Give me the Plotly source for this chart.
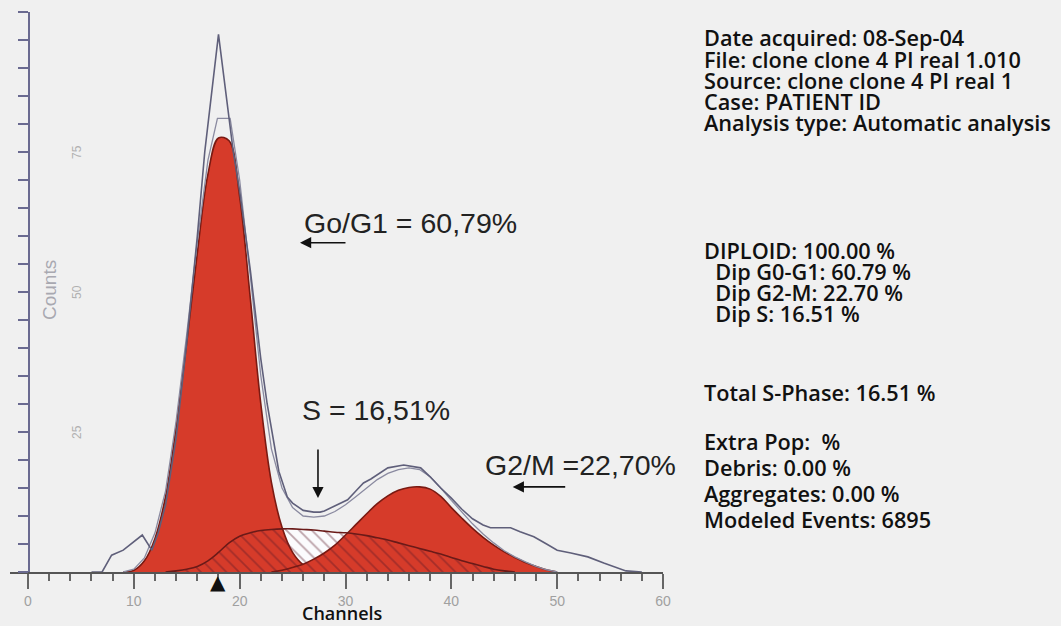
import plotly.graph_objects as go

# ---------------- data ----------------
# G0/G1 fitted component (channel, counts)
g1_channels = [9, 10, 11, 12, 13, 14, 15, 16, 17, 18, 19, 20, 21, 22, 23, 24, 25, 26, 27, 28]
g1_counts = [0, 0.3, 2, 6, 13.5, 26, 41, 57, 71, 77.5, 77, 67, 49, 30, 16, 8, 3.5, 1.3, 0.4, 0]

# G2/M fitted component
g2_channels = list(range(23, 51))
g2_counts = [0, 0.3, 0.8, 1.4, 2.3, 3.4, 4.8, 6.6, 8.5, 10.4, 12.2, 13.6, 14.6, 15.1,
             15.2, 14.8, 13.5, 11.5, 9.6, 7.8, 6.2, 4.8, 3.6, 2.6, 1.7, 1.0, 0.4, 0]

# S-phase component
s_channels = list(range(13, 47))
s_counts = [0, 0.2, 0.5, 1.0, 2, 3.5, 5.2, 6.4, 7.0, 7.4, 7.6, 7.7, 7.7, 7.6, 7.5, 7.3,
            7.1, 7.0, 6.8, 6.5, 6.1, 5.7, 5.2, 4.7, 4.2, 3.7, 3.2, 2.6, 2.0, 1.5, 1.0,
            0.5, 0.2, 0]

# model fit (sum) line
model_channels = [9, 10, 11, 12, 13, 14, 15, 16, 17, 17.9, 19.1, 20, 21, 22, 23, 24, 25, 26,
                  27, 28, 29, 30, 31, 32, 33, 34, 35, 36, 37, 38, 39, 40, 41, 42, 43, 44,
                  45, 46, 47, 48, 49, 50]
model_counts = [0, 0.5, 2.5, 7, 14.5, 27, 42.5, 59, 73.5, 81, 81, 70, 53, 35, 22, 15, 11.5, 10,
                9.8, 10, 10.8, 12, 13.5, 15, 16.5, 17.6, 18.3, 18.6, 18.3, 17, 15, 12.8, 10.6,
                8.6, 6.8, 5.2, 3.8, 2.7, 1.8, 1.0, 0.4, 0]

# raw histogram outline
raw_channels = [6, 7, 7.9, 9, 10.8, 11.7, 12.3, 13, 14, 15, 16, 16.7, 18, 19.4, 20, 21, 22,
                22.6, 23.7, 24.5, 25, 26, 27, 27.6, 28, 29, 30.2, 31, 31.7, 32.4, 33.3, 34,
                35.5, 37.1, 38, 39, 40, 41, 42, 43, 43.7, 45.6, 46.5, 47.8, 49, 50, 51.3,
                52.9, 54.4, 55.7, 56.5, 58]
raw_counts = [0, 0, 3, 3.9, 6.6, 3.9, 7, 12, 24, 41, 60, 75, 96, 75, 68, 54, 38, 30, 18, 13.4,
              12.3, 11, 10.7, 10.7, 10.9, 11.8, 12.9, 14.5, 15.9, 16.6, 17.7, 18.6, 19.1, 18.6,
              17, 15, 13.2, 11.2, 9.5, 8.4, 7.9, 7.9, 7.2, 6.3, 5, 3.9, 3.4, 2.7, 1.6, 0.7,
              0.2, 0]

g1_mean_channel = 18

x_tick_vals = [0, 10, 20, 30, 40, 50, 60]
x_tick_text = ["0", "10", "20", "30", "40", "50", "60"]
x_title = "Channels"
y_title = "Counts"
y_tick_vals = list(range(0, 101, 5))
y_label_vals = [25, 50, 75]
y_label_text = ["25", "50", "75"]

phase_labels = ["Go/G1 = 60,79%", "S = 16,51%", "G2/M =22,70%"]

info_block1 = ["Date acquired: 08-Sep-04", "File: clone clone 4 PI real 1.010",
               "Source: clone clone 4 PI real 1", "Case: PATIENT ID",
               "Analysis type: Automatic analysis"]
info_block2 = ["DIPLOID: 100.00 %", "\u00a0\u00a0Dip G0-G1: 60.79 %",
               "\u00a0\u00a0Dip G2-M: 22.70 %", "\u00a0\u00a0Dip S: 16.51 %"]
info_block3 = ["Total S-Phase: 16.51 %"]
info_block4 = ["Extra Pop:  %", "Debris: 0.00 %", "Aggregates: 0.00 %", "Modeled Events: 6895"]

# ---------------- layout geometry (pixels) ----------------
W, H = 1061, 626
PX_L, PX_R, PX_T, PX_B = 10, 663, 12, 572
X_MIN, X_MAX = -1.7, 60
Y_MIN, Y_MAX = 0, 100


def px_x(px):
    return (px - PX_L) / (PX_R - PX_L)


def px_y(py):
    return (PX_B - py) / (PX_B - PX_T)


BG = "#f0f0f0"
RED = "#d63b2a"
RED_EDGE = "#7a1a12"
OUTLINE = "#5f5f7a"

fig = go.Figure()

# whitish backing of the S-phase area (visible where no red covers it)
fig.add_trace(go.Scatter(x=s_channels, y=s_counts, mode="lines", line_shape="spline",
                         fill="tozeroy", fillcolor="#fbfbfd",
                         line=dict(color="rgba(0,0,0,0)", width=0), hoverinfo="skip"))
fig.add_trace(go.Scatter(x=g1_channels, y=g1_counts, mode="lines", line_shape="spline",
                         fill="tozeroy", fillcolor=RED,
                         line=dict(color=RED_EDGE, width=1.6), hoverinfo="skip"))
fig.add_trace(go.Scatter(x=g2_channels, y=g2_counts, mode="lines", line_shape="spline",
                         fill="tozeroy", fillcolor=RED,
                         line=dict(color=RED_EDGE, width=1.6), hoverinfo="skip"))
fig.add_trace(go.Scatter(x=s_channels, y=s_counts, mode="lines", line_shape="spline",
                         fill="tozeroy", fillcolor="rgba(0,0,0,0)",
                         fillpattern=dict(shape="\\", fgcolor="rgba(90,25,40,0.8)",
                                          bgcolor="rgba(0,0,0,0)", size=9, solidity=0.2),
                         line=dict(color="#6a1a18", width=1.6), hoverinfo="skip"))
fig.add_trace(go.Scatter(x=model_channels, y=model_counts, mode="lines",
                         line=dict(color="#8a8aa0", width=1.3), hoverinfo="skip"))
fig.add_trace(go.Scatter(x=raw_channels, y=raw_counts, mode="lines",
                         line=dict(color=OUTLINE, width=1.6), hoverinfo="skip"))

LABEL_FONT = dict(family="Liberation Sans, Arial", size=28.5, color="#222222")
INFO_FONT = dict(family="Open Sans", size=21.7, color="#111111", weight=600)

annotations = [
    # phase labels
    dict(x=25.9, y=62.3, xref="x", yref="y", text=phase_labels[0], showarrow=False,
         xanchor="left", yanchor="middle", font=LABEL_FONT),
    dict(x=25.7, y=28.9, xref="x", yref="y", text=phase_labels[1], showarrow=False,
         xanchor="left", yanchor="middle", font=LABEL_FONT),
    dict(x=43.0, y=19.1, xref="x", yref="y", text=phase_labels[2], showarrow=False,
         xanchor="left", yanchor="middle", font=LABEL_FONT),
    # arrows
    dict(x=25.7, y=58.8, xref="x", yref="y", text="", showarrow=True, ax=47, ay=0,
         arrowhead=2, arrowsize=1.4, arrowwidth=1.6, arrowcolor="#111111"),
    dict(x=27.4, y=13.2, xref="x", yref="y", text="", showarrow=True, ax=0, ay=-50,
         arrowhead=2, arrowsize=1.4, arrowwidth=1.6, arrowcolor="#111111"),
    dict(x=45.8, y=15.2, xref="x", yref="y", text="", showarrow=True, ax=54, ay=0,
         arrowhead=2, arrowsize=1.4, arrowwidth=1.6, arrowcolor="#111111"),
    # G0/G1 mean marker below the axis
    dict(x=g1_mean_channel, y=px_y(582), xref="x", yref="paper", text="\u25b2",
         showarrow=False, xanchor="center", yanchor="middle",
         font=dict(family="DejaVu Sans", size=20, color="#111111")),
    # axis titles
    dict(x=px_x(49), y=px_y(290), xref="paper", yref="paper", text=y_title, showarrow=False,
         textangle=-90, font=dict(family="Liberation Sans, Arial", size=19, color="#a8a8b0"),
         xanchor="center", yanchor="middle"),
    dict(x=29.7, y=px_y(613), xref="x", yref="paper", text=x_title, showarrow=False,
         xanchor="center", yanchor="middle",
         font=dict(family="Open Sans", size=18, color="#111111", weight=600)),
]

# rotated y tick labels drawn inside the plot area
for v, t in zip(y_label_vals, y_label_text):
    annotations.append(dict(x=px_x(77), y=v, xref="paper", yref="y", text=t, showarrow=False,
                            textangle=-90, xanchor="center", yanchor="middle",
                            font=dict(family="Liberation Sans, Arial", size=12,
                                      color="#b0b0b0")))

blocks = [(info_block1, 38, 21.2), (info_block2, 250, 21.2), (info_block3, 392, 25),
          (info_block4, 442, 25.8)]
for lines, y0, step in blocks:
    for i, t in enumerate(lines):
        annotations.append(dict(x=px_x(703), y=px_y(y0 + i * step), xref="paper", yref="paper",
                                text=t, showarrow=False, xanchor="left", yanchor="middle",
                                borderpad=0, font=INFO_FONT))

fig.update_layout(
    width=W, height=H,
    margin=dict(l=PX_L, r=W - PX_R, t=PX_T, b=H - PX_B),
    paper_bgcolor=BG, plot_bgcolor=BG,
    showlegend=False,
    annotations=annotations,
    xaxis=dict(range=[X_MIN, X_MAX], tickvals=x_tick_vals, ticktext=x_tick_text,
               automargin=False,
               ticks="outside", ticklen=15, tickwidth=1.5, tickcolor="#666666",
               minor=dict(tickvals=list(range(0, 61, 2)), ticks="outside", ticklen=7,
                          tickwidth=1.5, tickcolor="#666666"),
               showline=True, linecolor="#555555", linewidth=2,
               showgrid=False, zeroline=False,
               tickfont=dict(family="Liberation Sans, Arial", size=14, color="#a0a0a0")),
    yaxis=dict(range=[Y_MIN, Y_MAX], anchor="free", position=px_x(28.5), automargin=False,
               tickvals=y_tick_vals, showticklabels=False,
               ticks="outside", ticklen=10, tickwidth=1.5, tickcolor="#6a6a90",
               showline=True, linecolor="#6a6a90", linewidth=2,
               showgrid=False, zeroline=False),
)

fig.write_html("out.html", config={"displayModeBar": False},
               post_script="document.body.style.margin='0px';"
                           "document.body.style.background='#f0f0f0';")
